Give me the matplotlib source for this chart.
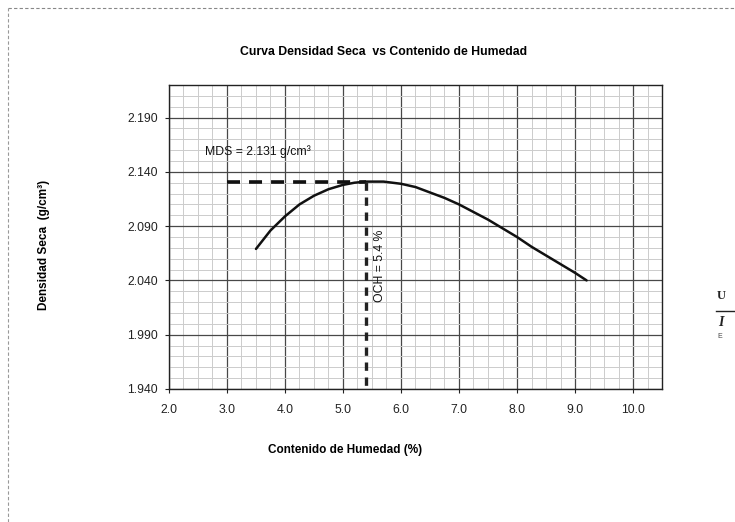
import numpy as np
import matplotlib
matplotlib.use('Agg')
import matplotlib.pyplot as plt
from matplotlib.ticker import MultipleLocator, FormatStrFormatter
from matplotlib.lines import Line2D

plt.rcParams['font.family'] = ['Liberation Sans', 'DejaVu Sans']

# curve (moisture %, dry density g/cm3)
humedad = [3.5, 3.75, 4.0, 4.25, 4.5, 4.75, 5.0, 5.2, 5.4, 5.7, 6.0, 6.25, 6.5, 6.75,
           7.0, 7.25, 7.5, 7.75, 8.0, 8.25, 8.5, 8.75, 9.0, 9.2]
densidad = [2.069, 2.086, 2.099, 2.110, 2.118, 2.124, 2.128, 2.130, 2.131, 2.131, 2.129,
            2.126, 2.121, 2.116, 2.110, 2.103, 2.096, 2.088, 2.080, 2.071, 2.063, 2.055,
            2.047, 2.040]

mds = 2.131
och = 5.4
x_ref_start = 3.0

xticks = [2.0, 3.0, 4.0, 5.0, 6.0, 7.0, 8.0, 9.0, 10.0]
yticks = [1.940, 1.990, 2.040, 2.090, 2.140, 2.190]

fig = plt.figure(figsize=(7.35, 5.22), dpi=100)
ax = fig.add_axes([0.2299, 0.2548, 0.6708, 0.5824])

# grid
ax.set_xlim(2.0, 10.5)
ax.set_ylim(1.94, 2.22)
ax.set_xticks(xticks)
ax.set_yticks(yticks)
ax.xaxis.set_minor_locator(MultipleLocator(0.25))
ax.yaxis.set_minor_locator(MultipleLocator(0.01))
ax.xaxis.set_major_formatter(FormatStrFormatter('%.1f'))
ax.yaxis.set_major_formatter(FormatStrFormatter('%.3f'))
ax.grid(which='major', color='#484848', linewidth=0.9, linestyle='-')
ax.grid(which='minor', color='#cccccc', linewidth=0.7, linestyle='-')
ax.set_axisbelow(True)
ax.tick_params(which='major', labelsize=8.8, length=3, width=0.8, colors='#222222')
ax.tick_params(axis='x', which='major', pad=8)
ax.tick_params(axis='y', which='major', pad=5)
ax.tick_params(which='minor', length=0)
for s in ax.spines.values():
    s.set_linewidth(1.0)
    s.set_color('#222222')

# curve
ax.plot(humedad, densidad, color='#111111', linewidth=1.8, solid_capstyle='round',
        solid_joinstyle='round')

# reference lines
ax.plot([x_ref_start, och], [mds, mds], color='#111111', linewidth=2.6, dashes=(3.6, 2.5))
ax.plot([och, och], [mds, 1.94], color='#222222', linewidth=2.4, dashes=(2.5, 2.0))

ax.text(2.62, 2.159, 'MDS = 2.131 g/cm³', fontsize=8.8, ha='left', va='center', color='#111111')
ax.text(5.64, 2.053, 'OCH = 5.4 %', fontsize=8.8, rotation=90, ha='center', va='center',
        color='#111111')

# titles and labels
fig.text(0.522, 0.900, 'Curva Densidad Seca  vs Contenido de Humedad', fontsize=8.8,
         fontweight='bold', ha='center', va='center')
fig.text(0.469, 0.138, 'Contenido de Humedad (%)', fontsize=8.5, fontweight='bold',
         ha='center', va='center')
fig.text(0.060, 0.530, 'Densidad Seca  (g/cm³)', fontsize=8.5, fontweight='bold',
         rotation=90, ha='center', va='center')

# scanned page border
fig.add_artist(Line2D([0.011, 1.0], [0.985, 0.985], transform=fig.transFigure,
                      color='#888888', linewidth=0.8, linestyle=(0, (3, 2))))
fig.add_artist(Line2D([0.011, 0.011], [0.0, 0.985], transform=fig.transFigure,
                      color='#999999', linewidth=0.8, linestyle=(0, (3, 2))))

# cut-off text on the right side of the page
fig.text(0.975, 0.432, 'U', fontsize=9, fontweight='bold', family='Liberation Serif',
         ha='left', va='center', color='#222222')
fig.text(0.977, 0.383, 'I', fontsize=10, fontweight='bold', fontstyle='italic',
         family='Liberation Serif', ha='left', va='center', color='#222222')
fig.add_artist(Line2D([0.974, 1.0], [0.405, 0.405], transform=fig.transFigure,
                      color='#222222', linewidth=1.0))
fig.text(0.976, 0.355, 'E', fontsize=5, ha='left', va='center', color='#444444')

plt.savefig('out.png', dpi=100)
